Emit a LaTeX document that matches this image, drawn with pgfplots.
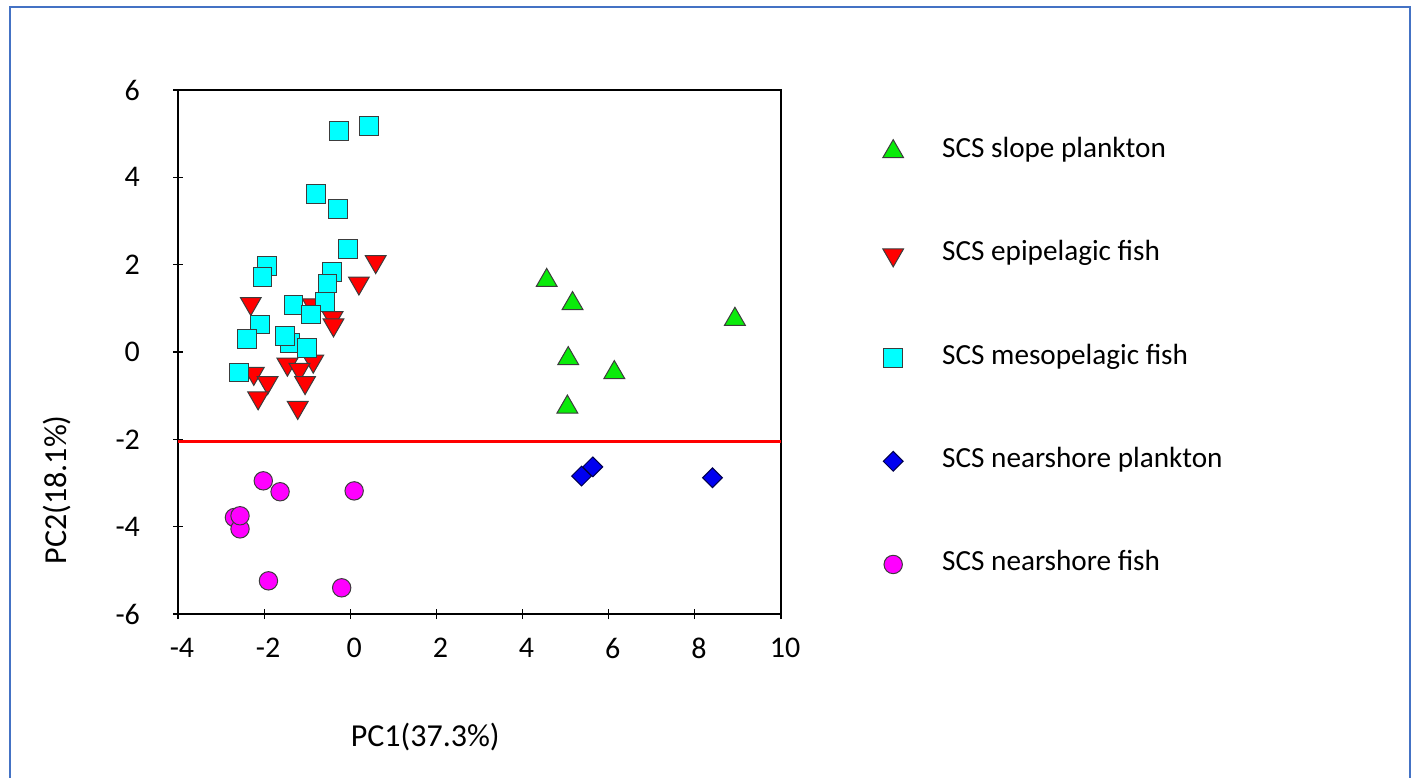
\documentclass[border=0pt]{standalone}
\usepackage{fontspec}
\setmainfont{Carlito}
\usepackage{pgfplots}
\pgfplotsset{compat=1.18}
\definecolor{framecol}{RGB}{68,114,196}
\definecolor{sgreen}{RGB}{10,235,10}
\definecolor{sred}{RGB}{255,0,0}
\definecolor{scyan}{RGB}{0,255,255}
\definecolor{sblue}{RGB}{0,0,240}
\definecolor{smag}{RGB}{255,0,255}
\definecolor{edgec}{RGB}{60,60,60}
\pgfplotsset{
  gpt/.style={only marks, mark=triangle*, mark size=6pt, mark options={fill=sgreen, draw=edgec, line width=0.5pt}},
  rpt/.style={only marks, mark=triangle*, mark size=6pt, mark options={rotate=180, fill=sred, draw=edgec, line width=0.5pt}},
  cpt/.style={only marks, mark=square*, mark size=4.7pt, mark options={fill=scyan, draw=edgec, line width=0.5pt}},
  bpt/.style={only marks, mark=square*, mark size=3.5pt, mark options={rotate=45, fill=sblue, draw=black!70!blue, line width=0.5pt}},
  mpt/.style={only marks, mark=*, mark size=4.6pt, mark options={fill=smag, draw=edgec, line width=0.5pt}},
}
\begin{document}
\begin{tikzpicture}
\path[use as bounding box] (0,0) rectangle (706.5pt,-388.5pt);
\draw[framecol, line width=1.2pt] (5pt,-392pt) -- (5pt,-3.5pt) -- (705pt,-3.5pt) -- (705pt,-392pt);
\begin{axis}[
  at={(89pt,-45pt)}, anchor=north west,
  scale only axis, width=301.5pt, height=262pt,
  xmin=-4, xmax=10, ymin=-6, ymax=6,
  xtick={-4,-2,...,10}, ytick={-6,-4,...,6},
  tick pos=left, tick align=center, major tick length=5pt,
  axis line style={line width=1pt},
  every tick/.style={black, line width=0.6pt},
  tick label style={font=\fontsize{15}{17}\selectfont},
  /pgf/number format/assume math mode=true,
  xticklabel style={yshift=-6pt, xshift=2pt},
  yticklabel style={xshift=-13pt},
  xlabel={PC1(37.3\%)}, ylabel={PC2(18.1\%)},
  label style={font=\fontsize{16}{18}\selectfont},
  xlabel style={at={(axis description cs:0.41,-0.235)}, anchor=center},
  ylabel style={at={(axis description cs:-0.2007,0.237)}, anchor=center},
  legend style={at={(axis description cs:1.1655,0.9098)}, anchor=north west,
    draw=none, fill=none, inner sep=0pt, row sep=37.6pt,
    font=\fontsize{14.6}{16}\selectfont,
    nodes={inner sep=0pt, text height=10pt, text depth=4pt}},
  legend cell align=left,
  legend image code/.code={\path[draw=none,fill=none] (-6pt,-7pt) rectangle (24.5pt,7pt); \draw[#1] plot coordinates {(0pt,0pt)};},
]
\addplot[sred, line width=1.1pt, forget plot] coordinates {(-4,-2.05) (10,-2.05)};
% SCS slope plankton
\addplot[gpt, forget plot] coordinates {
(4.56,1.64) (5.16,1.11) (8.93,0.75) (5.06,-0.15) (6.13,-0.47) (5.04,-1.26)};
% SCS epipelagic fish
\addplot[rpt, forget plot] coordinates {
(0.59,2.07) (0.20,1.58) (-2.31,1.11) (-0.87,1.08) (-0.41,0.79) (-0.39,0.62)
(-1.46,-0.28) (-0.86,-0.21) (-1.18,-0.40) (-1.05,-0.70) (-1.22,-1.27)
(-2.24,-0.49) (-1.92,-0.70) (-2.14,-1.05)};
% SCS mesopelagic fish
\addplot[cpt, forget plot] coordinates {
(-0.26,5.07) (0.44,5.18) (-0.80,3.61) (-0.29,3.27) (-0.05,2.35)
(-1.93,1.97) (-2.04,1.72) (-0.43,1.84) (-0.53,1.57) (-0.58,1.15)
(-1.32,1.08) (-0.92,0.86) (-2.10,0.63) (-2.39,0.30) (-1.40,0.20)
(-1.51,0.37) (-1.01,0.10) (-2.58,-0.47)};
% SCS nearshore plankton
\addplot[bpt, forget plot] coordinates {
(5.37,-2.84) (5.63,-2.63) (8.41,-2.88)};
% SCS nearshore fish
\addplot[mpt, forget plot] coordinates {
(-2.02,-2.95) (-1.63,-3.20) (0.09,-3.18) (-2.69,-3.79) (-2.56,-4.05)
(-2.56,-3.75) (-1.90,-5.24) (-0.20,-5.40)};
\addlegendimage{gpt}\addlegendentry{SCS slope plankton}
\addlegendimage{rpt}\addlegendentry{SCS epipelagic fish}
\addlegendimage{cpt}\addlegendentry{SCS mesopelagic fish}
\addlegendimage{bpt}\addlegendentry{SCS nearshore plankton}
\addlegendimage{mpt}\addlegendentry{SCS nearshore fish}
\end{axis}
\end{tikzpicture}
\end{document}
